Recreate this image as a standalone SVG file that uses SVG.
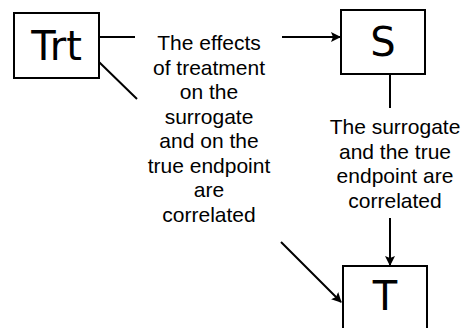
<svg xmlns="http://www.w3.org/2000/svg" width="462" height="328" viewBox="0 0 462 328">
<style>
.box{fill:#fff;stroke:#000;stroke-width:2}
.lbl{font-family:"DejaVu Sans",sans-serif;font-size:40px;fill:#000;text-anchor:middle}
.txt{font-family:"Liberation Sans",Arial,sans-serif;font-size:21px;fill:#000;text-anchor:middle}
.conn{fill:none;stroke:#000;stroke-width:2}
</style>
<defs>
<marker id="arr" viewBox="0 0 10 10" refX="9" refY="5" markerWidth="5" markerHeight="5" orient="auto" markerUnits="strokeWidth">
<path d="M0,0 L10,5 L0,10 L2,5 Z" fill="#000"/>
</marker>
</defs>
<rect width="462" height="328" fill="#fff"/>
<g id="connectors">
<path class="conn" d="M99,37 H135 M282,37 H340" marker-end="url(#arr)"/>
<path class="conn" d="M99,62 L137,99 M281,242 L341,302" marker-end="url(#arr)"/>
<path class="conn" d="M390,74 V108 M390,218 V265" marker-end="url(#arr)"/>
</g>
<g id="node-trt">
<rect class="box" x="14" y="13" width="85" height="65"/>
<text class="lbl" x="56.5" y="60">Trt</text>
</g>
<g id="node-s">
<rect class="box" x="341" y="10" width="84" height="64"/>
<text class="lbl" x="383" y="56">S</text>
</g>
<g id="node-t">
<rect class="box" x="343" y="266" width="84" height="80"/>
<text class="lbl" x="385" y="310">T</text>
</g>
<g id="label-trt-effects">
<text class="txt" x="209" y="50">The effects</text>
<text class="txt" x="209" y="74.5">of treatment</text>
<text class="txt" x="209" y="99">on the</text>
<text class="txt" x="209" y="123.5">surrogate</text>
<text class="txt" x="209" y="148">and on the</text>
<text class="txt" x="209" y="172.5">true endpoint</text>
<text class="txt" x="209" y="197">are</text>
<text class="txt" x="209" y="221.5">correlated</text>
</g>
<g id="label-s-t">
<text class="txt" x="395" y="134">The surrogate</text>
<text class="txt" x="395" y="158.5">and the true</text>
<text class="txt" x="395" y="183">endpoint are</text>
<text class="txt" x="395" y="207.5">correlated</text>
</g>
</svg>
